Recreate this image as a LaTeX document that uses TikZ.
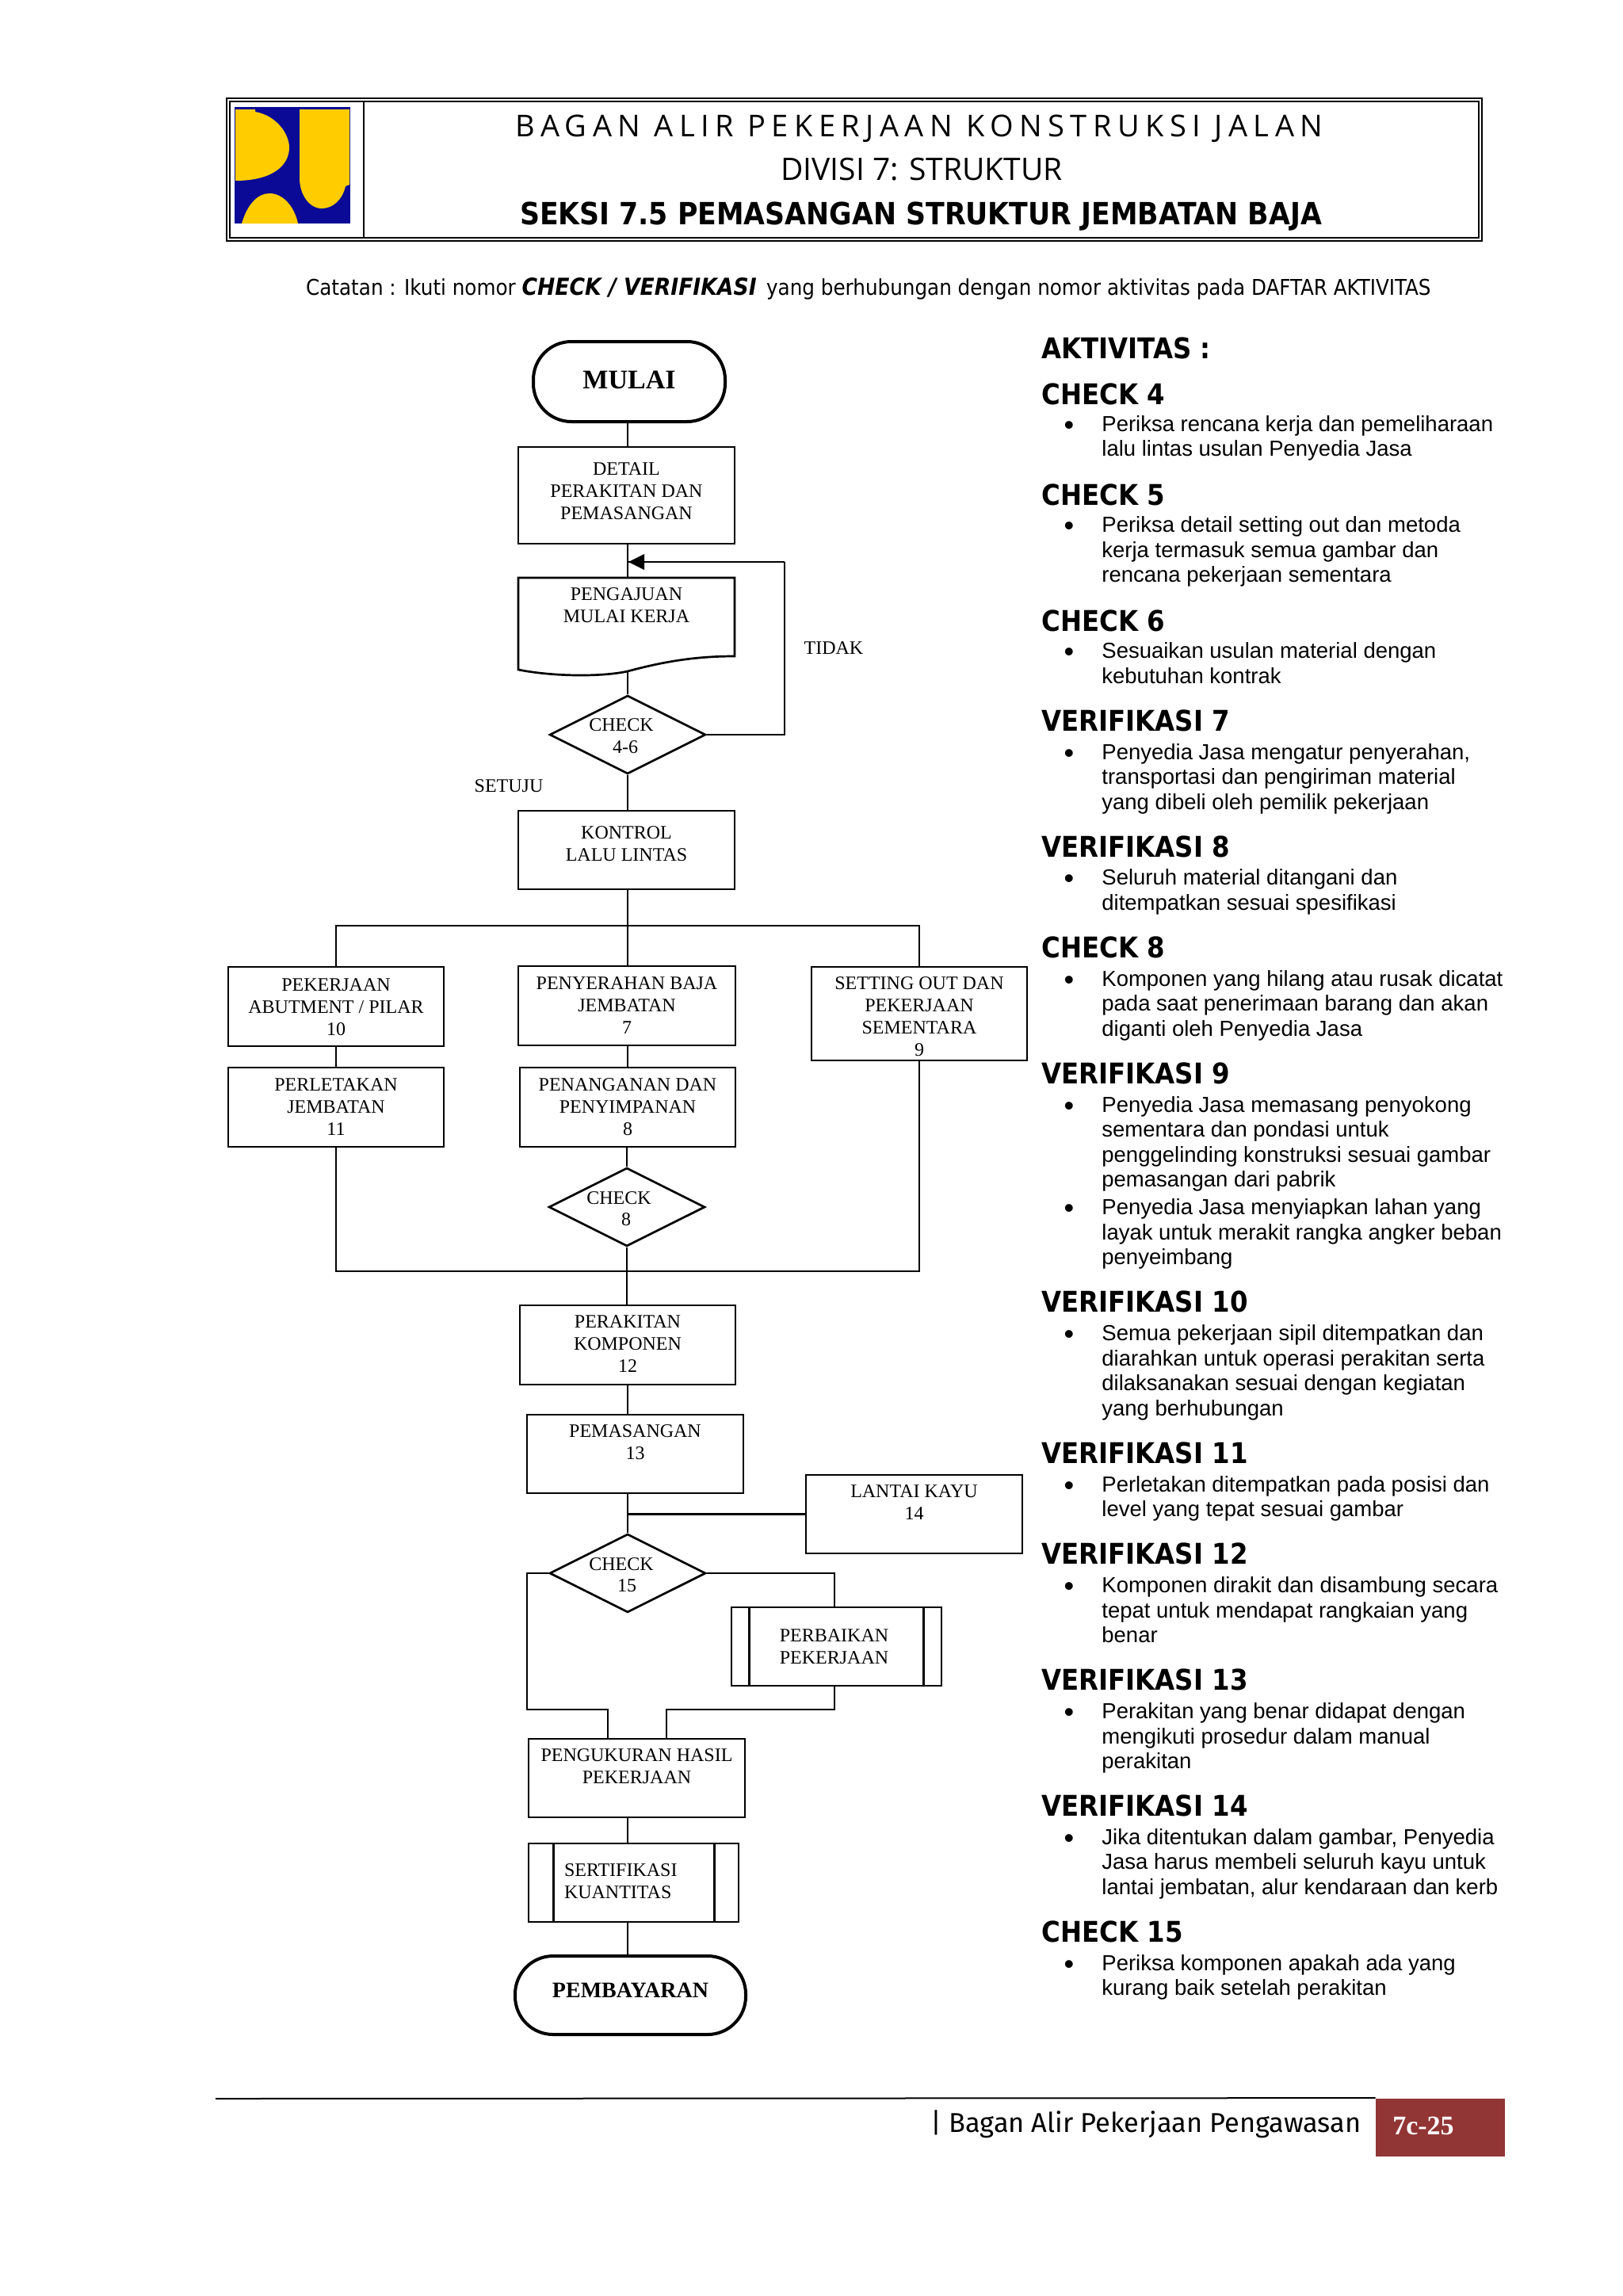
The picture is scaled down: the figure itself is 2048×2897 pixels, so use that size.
\documentclass[tikz,border=0pt]{standalone}
\usepackage{fontspec}
\setmainfont{Liberation Serif}
\newfontfamily\armfont{Liberation Sans}
\newfontfamily\headfont{DejaVu Sans Condensed}
\newfontfamily\titlefont{Open Sans}
\newfontfamily\spacedfont[LetterSpace=19.7]{Open Sans}
\newfontfamily\footfont{Fira Sans}
\usetikzlibrary{shapes.geometric,calc}
\definecolor{puyellow}{HTML}{FFCC00}
\definecolor{publue}{HTML}{0A0A96}
\definecolor{pagered}{HTML}{923535}
\tikzset{
  x=0.5pt,y=-0.5pt,
  flow/.style={draw=black,line width=1.35pt,rectangle,inner sep=0pt,font=\fontsize{12}{13.85}\selectfont},
  term/.style={flow,line width=2pt,rounded corners=24pt},
  plain/.style={rectangle,inner sep=0pt,font=\fontsize{12}{13.85}\selectfont},
  dia/.style={draw=black,line width=1.35pt,diamond,aspect=2,inner sep=0pt,minimum width=98.5pt,minimum height=49.5pt,font=\fontsize{12}{13.85}\selectfont},
  conn/.style={draw=black,line width=1.35pt},
  lab/.style={inner sep=0pt,font=\fontsize{12}{13.85}\selectfont},
  head/.style={inner sep=0pt,anchor=base west,font=\headfont\bfseries\fontsize{18}{20}\selectfont},
  bodyt/.style={inner sep=0pt,anchor=base west,font=\armfont\fontsize{13.75}{15.75}\selectfont},
  bull/.style={inner sep=0pt,anchor=base,font=\armfont\fontsize{18}{20}\selectfont},
}
% style, name, x1, y1, x2, y2, y of first line centre, text
\newcommand{\flowbox}[8][flow]{%
  \pgfmathsetmacro{\bw}{(#4-#2)/2}%
  \pgfmathsetmacro{\bh}{(#5-#3)/2}%
  \pgfmathsetmacro{\bt}{(#6-#3-7)/2}%
  \node[#1,minimum width=\bw pt,minimum height=\bh pt] (#7) at ({(#2+#4)/2},{(#3+#5)/2})
    {\parbox[t][\bh pt][t]{\bw pt}{\centering\vspace*{\bt pt}#8}};%
}
\newcommand{\dtext}[3]{\makebox[0pt]{\raisebox{#2pt}[0pt][0pt]{\hspace*{#1pt}\parbox{96pt}{\centering #3}}}}
\newcommand{\headline}[3]{\node[head] (#1) at (1314,{1.848*#2+13}) {#3};}
\newcommand{\bitem}[3]{%
  \node[bull] (#1b) at (1349,{1.848*#2+14}) {•};
  \node[bodyt] (#1) at (1390,{1.848*#2+10}) {\parbox[t]{290pt}{\raggedright #3}};}
\begin{document}
\begin{tikzpicture}
\useasboundingbox (0,0) rectangle (2048,2897);
% header
\node[draw=black,line width=1.2pt,minimum width=792pt,minimum height=90pt,inner sep=0pt] (hout) at (1078,214) {};
\node[draw=black,line width=1pt,minimum width=788pt,minimum height=86pt,inner sep=0pt] (hin) at (1078,214) {};
\draw[line width=1pt] (459,128) -- (459,300);
% logo
\fill[publue] (296,135) rectangle (442,282);
\fill[puyellow] (297,138) -- (322,138) -- (322,141) .. controls (350,146) and (365,170) .. (365,186) .. controls (365,208) and (345,228) .. (297,228) -- cycle;
\fill[puyellow] (378,138) -- (441,138) -- (441,233) -- (436,235) .. controls (432,252) and (420,263) .. (406,263) .. controls (390,263) and (378,245) .. (378,225) -- cycle;
\fill[puyellow] (305,282) .. controls (312,258) and (325,244) .. (340,244) .. controls (358,244) and (372,262) .. (376,282) -- cycle;
% header text
\node[inner sep=0pt,font=\spacedfont\fontsize{19}{20}\selectfont] (h1) at (1160,162) {BAGAN ALIR PEKERJAAN KONSTRUKSI JALAN};
\node[inner sep=0pt,font=\titlefont\fontsize{19.5}{20}\selectfont] (h2) at (1163,214) {DIVISI 7: STRUKTUR};
\node[inner sep=0pt,font=\headfont\bfseries\fontsize{19.3}{21}\selectfont] (h3) at (1162,273) {SEKSI 7.5 PEMASANGAN STRUKTUR JEMBATAN BAJA};
\node[inner sep=0pt,font=\headfont\fontsize{13.7}{16}\selectfont] (cat) at (1096,364) {Catatan : Ikuti nomor {\bfseries\itshape\fontsize{14.8}{16}\selectfont CHECK / VERIFIKASI}\, yang berhubungan dengan nomor aktivitas pada DAFTAR AKTIVITAS};
% flow
\coordinate (vx) at (792,0);
\flowbox[term,font=\bfseries\fontsize{17}{18}\selectfont]{673}{431}{915}{532}{475}{mulai}{MULAI}
\flowbox{654}{564}{927}{686}{591}{detail}{DETAIL\\PERAKITAN DAN\\PEMASANGAN}
\node[plain,minimum width=136.5pt,minimum height=58pt] (aju) at (790.5,787) {\parbox[t][58pt][t]{136.5pt}{\centering\vspace*{6.5pt}PENGAJUAN\\MULAI KERJA}};
\draw[conn] (654,729) -- (927,729) -- (927,828) .. controls (880,828) and (840,834) .. (792,847) .. controls (760,854) and (700,854) .. (654,845) -- cycle;
\node[dia] (c46) at (792,927) {\dtext{-8}{-4}{CHECK\\\hspace*{5pt}4-6}};
\flowbox{654}{1023}{927}{1122}{1050}{kontrol}{KONTROL\\LALU LINTAS}
\node[lab] (tidak) at (1052,818) {TIDAK};
\node[lab] (setuju) at (642,992) {SETUJU};
\flowbox{288}{1220}{560}{1320}{1242}{b10}{PEKERJAAN\\ABUTMENT / PILAR\\10}
\flowbox{654}{1219}{928}{1319}{1240}{b7}{PENYERAHAN BAJA\\JEMBATAN\\7}
\flowbox{1024}{1220}{1296}{1338}{1240}{b9}{SETTING OUT DAN\\PEKERJAAN\\SEMENTARA\\9}
\flowbox{288}{1347}{560}{1447}{1368}{b11}{PERLETAKAN\\JEMBATAN\\11}
\flowbox{656}{1347}{928}{1447}{1368}{b8}{PENANGANAN DAN\\PENYIMPANAN\\8}
\node[dia] (c8) at (791,1523) {\dtext{-10}{-4}{CHECK\\\hspace*{9pt}8}};
\flowbox{656}{1647}{928}{1747}{1667}{b12}{PERAKITAN\\KOMPONEN\\12}
\flowbox{665}{1785}{938}{1884}{1805}{b13}{PEMASANGAN\\13}
\flowbox{1017}{1861}{1290}{1960}{1881}{b14}{LANTAI KAYU\\14}
\node[dia] (c15) at (792,1985) {\dtext{-8}{-4}{CHECK\\\hspace*{7pt}15}};
\flowbox{923}{2028}{1188}{2127}{2063}{perb}{\hspace*{-3pt}PERBAIKAN\\\hspace*{-3pt}PEKERJAAN}
\draw[conn] ($(perb.north west)+(24,0)$) -- ($(perb.south west)+(24,0)$);
\draw[conn] ($(perb.north east)+(-24,0)$) -- ($(perb.south east)+(-24,0)$);
\flowbox{667}{2194}{940}{2293}{2214}{ukur}{PENGUKURAN HASIL\\PEKERJAAN}
\flowbox{667}{2326}{932}{2425}{2359}{sert}{\raggedright\hspace*{22.5pt}SERTIFIKASI\\\hspace*{22.5pt}KUANTITAS}
\draw[conn] ($(sert.north west)+(33,0)$) -- ($(sert.south west)+(33,0)$);
\draw[conn] ($(sert.north east)+(-32,0)$) -- ($(sert.south east)+(-32,0)$);
\flowbox[term,font=\bfseries\fontsize{14}{15}\selectfont]{650}{2468}{941}{2567}{2509}{bayar}{PEMBAYARAN}
% connectors
\coordinate (jt) at (792,1168);
\coordinate (jb) at (792,1604);
\coordinate (fb) at (990,709);
\coordinate (ml) at (665,2157);
\coordinate (mr) at (1053,2157);
\coordinate (ua) at (767,2157);
\coordinate (ub) at (841,2157);
\draw[conn] (mulai.south -| vx) -- (detail.north -| vx);
\draw[conn] (detail.south -| vx) -- (aju.north -| vx);
\draw[conn] (792,847) -- (c46.north);
\draw[conn] (c46.south) -- (kontrol.north -| vx);
\draw[conn] (c46.east) -- (c46.east -| fb) -- (fb);
\draw[conn] (fb) -- (vx |- fb);
\fill (vx |- fb) ++(1,0) -- ++(20,-10) -- ++(0,20) -- cycle;
\draw[conn] (kontrol.south -| vx) -- (b7.north -| vx);
\draw[conn] (b10.north) -- (b10.north |- jt) -- (b9.north |- jt) -- (b9.north);
\draw[conn] (b7.south -| vx) -- (b8.north -| vx);
\draw[conn] (b8.south -| c8.north) -- (c8.north);
\draw[conn] (b11.south) -- (b11.south |- jb) -- (b9.south |- jb) -- (b9.south);
\draw[conn] (b10.south) -- (b11.north);
\draw[conn] (c8.south) -- (b12.north -| c8.south);
\draw[conn] (b12.south -| vx) -- (b13.north -| vx);
\draw[conn] (b13.south -| vx) -- (c15.north);
\draw[conn] (vx |- b14.west) -- (b14.west);
\draw[conn] (c15.west) -- (c15.west -| ml) -- (ml) -- (ua) -- (ukur.north -| ua);
\draw[conn] (c15.east) -- (c15.east -| mr) -- (perb.north -| mr);
\draw[conn] (perb.south -| mr) -- (mr) -- (ub) -- (ukur.north -| ub);
\draw[conn] (ukur.south -| vx) -- (sert.north -| vx);
\draw[conn] (sert.south -| vx) -- (bayar.north -| vx);
% right column
\headline{act}{238}{AKTIVITAS :}
\headline{h4}{269}{CHECK 4}
\bitem{t4}{289}{Periksa rencana kerja dan pemeliharaan\\lalu lintas usulan Penyedia Jasa}
\headline{h5}{338}{CHECK 5}
\bitem{t5}{358}{Periksa detail setting out dan metoda\\kerja termasuk semua gambar dan\\rencana pekerjaan sementara}
\headline{h6}{424}{CHECK 6}
\bitem{t6}{444}{Sesuaikan usulan material dengan\\kebutuhan kontrak}
\headline{v7}{492}{VERIFIKASI 7}
\bitem{t7}{513}{Penyedia Jasa mengatur penyerahan,\\transportasi dan pengiriman material\\yang dibeli oleh pemilik pekerjaan}
\headline{v8}{578}{VERIFIKASI 8}
\bitem{t8}{599}{Seluruh material ditangani dan\\ditempatkan sesuai spesifikasi}
\headline{c8h}{647}{CHECK 8}
\bitem{t8c}{668}{Komponen yang hilang atau rusak dicatat\\pada saat penerimaan barang dan akan\\diganti oleh Penyedia Jasa}
\headline{v9}{733}{VERIFIKASI 9}
\bitem{t9a}{754}{Penyedia Jasa memasang penyokong\\sementara dan pondasi untuk\\penggelinding konstruksi sesuai gambar\\pemasangan dari pabrik}
\bitem{t9b}{824}{Penyedia Jasa menyiapkan lahan yang\\layak untuk merakit rangka angker beban\\penyeimbang}
\headline{v10}{889}{VERIFIKASI 10}
\bitem{t10}{910}{Semua pekerjaan sipil ditempatkan dan\\diarahkan untuk operasi perakitan serta\\dilaksanakan sesuai dengan kegiatan\\yang berhubungan}
\headline{v11}{992}{VERIFIKASI 11}
\bitem{t11}{1013}{Perletakan ditempatkan pada posisi dan\\level yang tepat sesuai gambar}
\headline{v12}{1061}{VERIFIKASI 12}
\bitem{t12}{1082}{Komponen dirakit dan disambung secara\\tepat untuk mendapat rangkaian yang\\benar}
\headline{v13}{1147}{VERIFIKASI 13}
\bitem{t13}{1168}{Perakitan yang benar didapat dengan\\mengikuti prosedur dalam manual\\perakitan}
\headline{v14}{1233}{VERIFIKASI 14}
\bitem{t14}{1254}{Jika ditentukan dalam gambar, Penyedia\\Jasa harus membeli seluruh kayu untuk\\lantai jembatan, alur kendaraan dan kerb}
\headline{c15h}{1319}{CHECK 15}
\bitem{t15}{1340}{Periksa komponen apakah ada yang\\kurang baik setelah perakitan}
% footer
\node[fill=pagered,minimum width=81.5pt,minimum height=36.5pt,inner sep=0pt] (pg) at (1817.5,2684) {};
\draw[line width=1pt] (272,2648) -- (pg.north west);
\node[inner sep=0pt,font=\bfseries\fontsize{17}{18}\selectfont,text=white] (pgt) at (1796,2682) {7c-25};
\node[inner sep=0pt,font=\footfont\fontsize{17.2}{18}\selectfont] (ft) at (1446,2680) {| Bagan Alir Pekerjaan Pengawasan};
\end{tikzpicture}
\end{document}
